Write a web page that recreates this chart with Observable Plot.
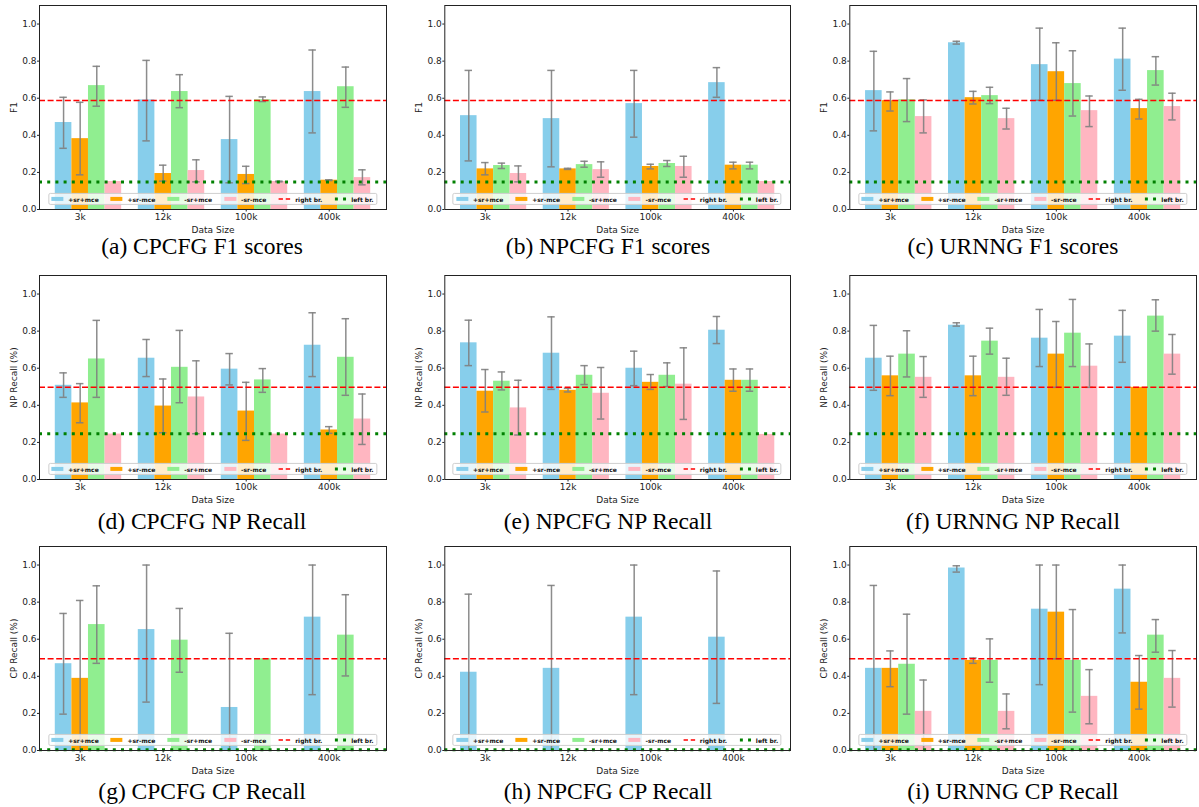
<!DOCTYPE html>
<html>
<head>
<meta charset="utf-8">
<script src="https://cdn.jsdelivr.net/npm/d3@7"></script>
<script src="https://cdn.jsdelivr.net/npm/@observablehq/plot@0.6"></script>
<style>
  html, body { margin: 0; padding: 0; background: #fff; }
  #fig { position: relative; width: 1199px; height: 807px; background: #fff; overflow: hidden; }
  .panel { position: absolute; top: 0; }
  .panel svg { display: block; }
  .legend { position: absolute; display: flex; align-items: center; gap: 12px; padding: 1.6px 2.6px;
    background: rgba(255,255,255,0.8); border: 0.8px solid #cfcfcf; border-radius: 2px;
    font: bold 6px "DejaVu Sans", sans-serif; color: #111; white-space: nowrap; line-height: 7px;
    transform: translate(-50%, -50%); }
  .legend .item { display: flex; align-items: center; }
  .legend .sw { display: inline-block; width: 12px; height: 4.2px; margin-right: 4.8px; }
  .legend svg { display: inline-block; margin-right: 4.8px; }
  .caption { position: absolute; font-family: "Liberation Serif", "Times New Roman", serif; font-size: 23.5px;
    line-height: 1; white-space: nowrap; transform: translateX(-50%); color: #000; }
</style>
</head>
<body>
<div id="fig"></div>
<script>
// ---------- data ----------
const sizes = ["3k", "12k", "100k", "400k"];
const seriesNames = ["+sr+mce", "+sr-mce", "-sr+mce", "-sr-mce"];
const seriesColors = ["#87CEEB", "#FFA500", "#90EE90", "#FFB6C1"];

// reference lines [right br., left br.]
const f1Ref = [0.588, 0.148];
const npRef = [0.498, 0.247];
const cpRef = [0.495, 0.004];

// (a) CPCFG F1  — rows: series, cols: sizes
const aMean = [[0.469, 0.591, 0.377, 0.636], [0.382, 0.194, 0.189, 0.158], [0.668, 0.636, 0.592, 0.662], [0.151, 0.210, 0.151, 0.172]];
const aLo   = [[0.330, 0.370, 0.144, 0.413], [0.187, 0.153, 0.140, 0.156], [0.557, 0.549, 0.582, 0.551], [null, 0.149, 0.149, 0.133]];
const aHi   = [[0.605, 0.804, 0.610, 0.860], [0.578, 0.239, 0.233, 0.160], [0.772, 0.727, 0.607, 0.768], [null, 0.268, 0.153, 0.214]];
// (b) NPCFG F1
const bMean = [[0.506, 0.490, 0.571, 0.684], [0.219, 0.219, 0.232, 0.239], [0.237, 0.242, 0.248, 0.239], [0.194, 0.215, 0.232, 0.151]];
const bLo   = [[0.262, 0.230, 0.390, 0.605], [0.187, 0.216, 0.219, 0.219], [0.221, 0.228, 0.232, 0.219], [0.149, 0.174, 0.174, null]];
const bHi   = [[0.750, 0.750, 0.750, 0.765], [0.253, 0.222, 0.244, 0.255], [0.250, 0.260, 0.264, 0.255], [0.235, 0.257, 0.287, null]];
// (c) URNNG F1
const cMean = [[0.641, 0.899, 0.781, 0.811], [0.587, 0.603, 0.743, 0.544], [0.592, 0.614, 0.679, 0.749], [0.501, 0.490, 0.533, 0.555]];
const cLo   = [[0.424, 0.892, 0.589, 0.643], [0.531, 0.569, 0.589, 0.488], [0.474, 0.571, 0.504, 0.671], [0.413, 0.434, 0.447, 0.483]];
const cHi   = [[0.853, 0.907, 0.978, 0.978], [0.634, 0.637, 0.899, 0.594], [0.706, 0.659, 0.856, 0.824], [0.591, 0.546, 0.612, 0.627]];
// (d) CPCFG NP Recall
const dMean = [[0.508, 0.654, 0.595, 0.724], [0.413, 0.396, 0.369, 0.267], [0.650, 0.605, 0.537, 0.659], [0.245, 0.445, 0.245, 0.326]];
const dLo   = [[0.443, 0.555, 0.510, 0.555], [0.306, 0.252, 0.211, 0.249], [0.443, 0.414, 0.470, 0.454], [null, 0.247, null, 0.189]];
const dHi   = [[0.575, 0.755, 0.679, 0.899], [0.517, 0.542, 0.524, 0.285], [0.858, 0.804, 0.598, 0.867], [null, 0.640, null, 0.461]];
// (e) NPCFG NP Recall
const eMean = [[0.737, 0.681, 0.600, 0.805], [0.476, 0.481, 0.524, 0.535], [0.530, 0.562, 0.562, 0.535], [0.386, 0.465, 0.514, 0.243]];
const eLo   = [[0.614, 0.486, 0.506, 0.733], [0.364, 0.472, 0.486, 0.476], [0.483, 0.512, 0.501, 0.476], [0.240, 0.326, 0.324, null]];
const eHi   = [[0.859, 0.877, 0.692, 0.879], [0.593, 0.492, 0.566, 0.596], [0.580, 0.614, 0.629, 0.596], [0.535, 0.604, 0.710, null]];
// (f) URNNG NP Recall
const fMean = [[0.654, 0.832, 0.762, 0.773], [0.559, 0.559, 0.676, 0.497], [0.676, 0.746, 0.789, 0.881], [0.551, 0.551, 0.611, 0.676]];
const fLo   = [[0.481, 0.827, 0.609, 0.632], [0.452, 0.452, 0.497, null], [0.553, 0.676, 0.609, 0.800], [0.443, 0.454, 0.497, 0.568]];
const fHi   = [[0.831, 0.845, 0.917, 0.912], [0.665, 0.665, 0.852, null], [0.802, 0.816, 0.971, 0.969], [0.663, 0.654, 0.731, 0.782]];
// (g) CPCFG CP Recall
const gMean = [[0.468, 0.652, 0.232, 0.719], [0.389, 0, 0, 0], [0.679, 0.595, 0.495, 0.622], [0, 0, 0, 0]];
const gLo   = [[0.196, 0.261, 0.0, 0.301], [0.0, null, null, null], [0.470, 0.422, null, 0.402], [null, null, null, null]];
const gHi   = [[0.739, 1.0, 0.632, 1.0], [0.809, null, null, null], [0.888, 0.766, null, 0.840], [null, null, null, null]];
// (h) NPCFG CP Recall
const hMean = [[0.422, 0.443, 0.719, 0.611], [0, 0, 0, 0], [0, 0, 0, 0], [0, 0, 0, 0]];
const hLo   = [[0.0, 0.0, 0.301, 0.254], [null, null, null, null], [null, null, null, null], [null, null, null, null]];
const hHi   = [[0.843, 0.890, 1.0, 0.968], [null, null, null, null], [null, null, null, null], [null, null, null, null]];
// (i) URNNG CP Recall
const iMean = [[0.443, 0.984, 0.762, 0.870], [0.443, 0.486, 0.746, 0.368], [0.465, 0.486, 0.486, 0.622], [0.211, 0.211, 0.292, 0.389]];
const iLo   = [[0.0, 0.962, 0.355, 0.634], [0.344, 0.470, 0.494, 0.223], [0.196, 0.368, 0.207, 0.530], [0.0, 0.117, 0.144, 0.234]];
const iHi   = [[0.890, 0.996, 1.0, 1.0], [0.537, 0.499, 1.0, 0.512], [0.735, 0.602, 0.760, 0.706], [0.380, 0.305, 0.436, 0.539]];

const yTicks = [0, 0.2, 0.4, 0.6, 0.8, 1.0];

const panels = [
  {mean: aMean, lo: aLo, hi: aHi, ref: f1Ref, ylabel: "F1", caption: "(a) CPCFG F1 scores"},
  {mean: bMean, lo: bLo, hi: bHi, ref: f1Ref, ylabel: "F1", caption: "(b) NPCFG F1 scores"},
  {mean: cMean, lo: cLo, hi: cHi, ref: f1Ref, ylabel: "F1", caption: "(c) URNNG F1 scores"},
  {mean: dMean, lo: dLo, hi: dHi, ref: npRef, ylabel: "NP Recall (%)", caption: "(d) CPCFG NP Recall"},
  {mean: eMean, lo: eLo, hi: eHi, ref: npRef, ylabel: "NP Recall (%)", caption: "(e) NPCFG NP Recall"},
  {mean: fMean, lo: fLo, hi: fHi, ref: npRef, ylabel: "NP Recall (%)", caption: "(f) URNNG NP Recall"},
  {mean: gMean, lo: gLo, hi: gHi, ref: cpRef, ylabel: "CP Recall (%)", caption: "(g) CPCFG CP Recall"},
  {mean: hMean, lo: hLo, hi: hHi, ref: cpRef, ylabel: "CP Recall (%)", caption: "(h) NPCFG CP Recall"},
  {mean: iMean, lo: iLo, hi: iHi, ref: cpRef, ylabel: "CP Recall (%)", caption: "(i) URNNG CP Recall"}
];

// ---------- layout ----------
const colX = [0, 400, 800];
const colW = [400, 400, 399];
const colML = [39, 44.3, 49.3];
const colMR = [14, 10, 3];
const rowFrameTop = [5, 275, 546];
const frameH = 204;
const captionCx = [202, 608, 1013];
const captionCy = [249, 524, 794];
const BAR_W = 0.2;

const fig = document.getElementById("fig");

panels.forEach((p, k) => {
  const col = k % 3, row = Math.floor(k / 3);
  const W = colW[col], ml = colML[col], mr = colMR[col];
  const top = rowFrameTop[row] - 5;

  const bars = [];
  seriesNames.forEach((s, si) => sizes.forEach((sz, gi) => {
    bars.push({series: s, x: gi + si * BAR_W, v: p.mean[si][gi], lo: p.lo[si][gi], hi: p.hi[si][gi]});
  }));
  const errs = bars.filter(d => d.lo != null && d.hi != null);
  const caps = [];
  errs.forEach(d => {
    if (d.lo > 0) caps.push({x: d.x, y: d.lo});
    caps.push({x: d.x, y: d.hi});
  });
  const tickPos = sizes.map((s, gi) => gi + BAR_W);

  const chart = Plot.plot({
    width: W,
    height: 5 + frameH + 30,
    marginTop: 5,
    marginBottom: 30,
    marginLeft: ml,
    marginRight: mr,
    style: {fontFamily: "DejaVu Sans, sans-serif", fontSize: "9px", color: "#222", background: "transparent"},
    x: {domain: [-0.29, 3.89]},
    y: {domain: [0, 1.1]},
    color: {domain: seriesNames, range: seriesColors},
    marks: [
      Plot.rect(bars, {x1: d => d.x - BAR_W / 2, x2: d => d.x + BAR_W / 2, y1: d => 0, y2: "v", fill: "series"}),
      Plot.ruleX(errs, {x: "x", y1: "lo", y2: "hi", stroke: "#7f7f7f", strokeWidth: 1.5, strokeOpacity: 0.9, clip: true}),
      Plot.ruleY(caps, {y: "y", x1: d => d.x - 0.045, x2: d => d.x + 0.045, stroke: "#7f7f7f", strokeWidth: 1.5, strokeOpacity: 0.9}),
      Plot.ruleY([p.ref[0]], {stroke: "red", strokeWidth: 1.5, strokeDasharray: "6,2.6"}),
      Plot.ruleY([p.ref[1]], {stroke: "green", strokeWidth: 3, strokeDasharray: "3,5.2"}),
      Plot.axisX({ticks: tickPos, tickFormat: d => sizes[Math.round(d - BAR_W)], tickSize: 2.5, tickPadding: 1.5,
        label: "Data Size", labelAnchor: "center", labelArrow: "none", labelOffset: 23}),
      Plot.axisY({ticks: yTicks, tickFormat: d3.format(".1f"), tickSize: 2, tickPadding: 1,
        label: p.ylabel, labelAnchor: "center", labelArrow: "none", labelOffset: 29}),
      Plot.frame({stroke: "#222", strokeWidth: 1})
    ]
  });

  const div = document.createElement("div");
  div.className = "panel";
  div.style.left = colX[col] + "px";
  div.style.top = top + "px";
  div.style.width = W + "px";
  div.appendChild(chart);
  fig.appendChild(div);

  // legend (inside axes, lower center)
  const lg = document.createElement("div");
  lg.className = "legend";
  const cx = colX[col] + (ml + (W - mr)) / 2;
  const cy = rowFrameTop[row] + frameH - 9.7;
  lg.style.left = cx + "px";
  lg.style.top = cy + "px";
  let html = "";
  seriesNames.forEach((s, si) => {
    html += `<span class="item"><span class="sw" style="background:${seriesColors[si]}"></span>${s}</span>`;
  });
  html += `<span class="item"><svg width="12" height="6"><line x1="0" x2="12" y1="3" y2="3" stroke="red" stroke-width="1.5" stroke-dasharray="4.6,2.8"/></svg>right br.</span>`;
  html += `<span class="item"><svg width="12" height="6"><line x1="0.5" x2="12" y1="3" y2="3" stroke="green" stroke-width="3" stroke-dasharray="3,5.2"/></svg>left br.</span>`;
  lg.innerHTML = html;
  fig.appendChild(lg);

  // caption
  const cap = document.createElement("div");
  cap.className = "caption";
  cap.textContent = p.caption;
  cap.style.left = captionCx[col] + "px";
  cap.style.top = (captionCy[row] - 14.3) + "px";
  fig.appendChild(cap);
});
</script>
</body>
</html>
